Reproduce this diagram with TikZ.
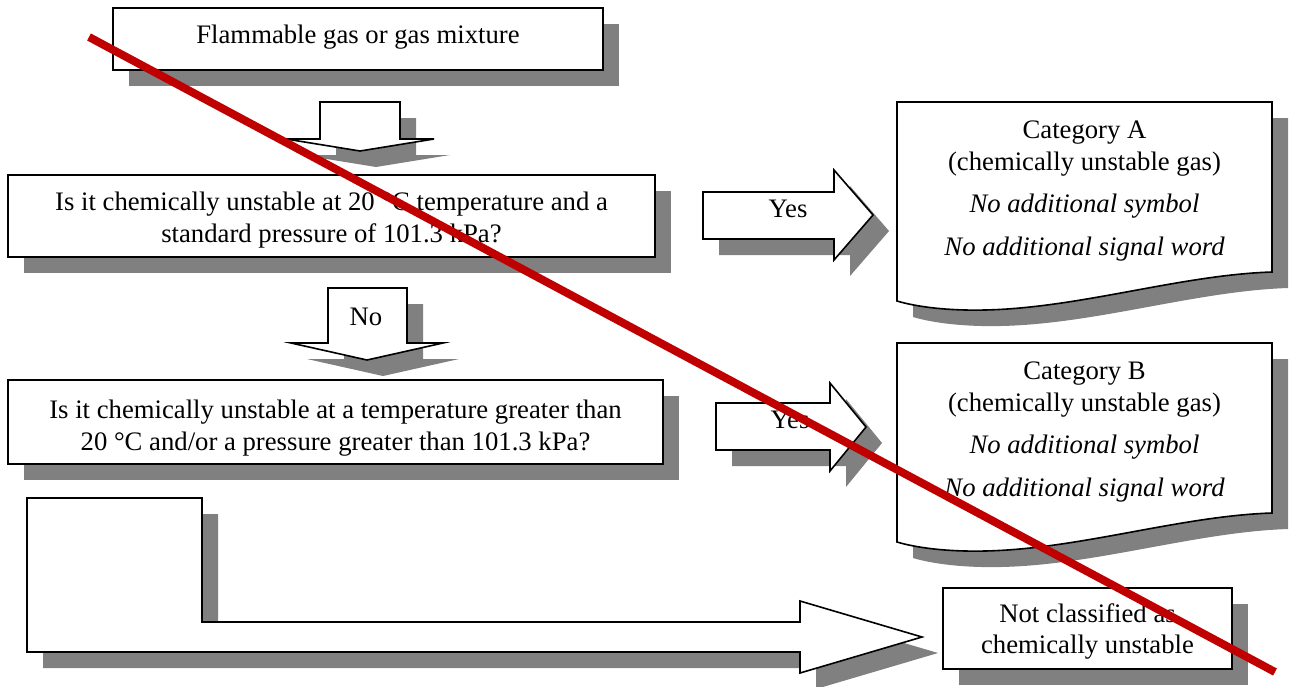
\documentclass[tikz,border=0pt]{standalone}
\usepackage{fontspec}
\setmainfont{Liberation Serif}
\usetikzlibrary{shadows}
\definecolor{shadowgray}{HTML}{808080}
\definecolor{crossred}{HTML}{C00000}
\tikzset{
  sh/.style={drop shadow={shadow xshift=16pt, shadow yshift=-16pt, fill=shadowgray, opacity=1}},
  outline/.style={draw=black, line width=1.6pt, fill=white, line join=miter, sh},
  box/.style={outline, rectangle, inner sep=0pt},
  txt/.style={font=\fontsize{26.7}{31}\selectfont, inner sep=0pt, anchor=base},
}
\begin{document}
\begin{tikzpicture}[x=1pt,y=-1pt]
\useasboundingbox (0,0) rectangle (1290,686);

% rectangular boxes
\node[box, minimum width=490pt, minimum height=62pt] (b1) at (358,39) {};
\node[box, minimum width=647pt, minimum height=82pt] (b2) at (331.5,216) {};
\node[box, minimum width=655pt, minimum height=84pt] (b3) at (335.5,422) {};

% block arrows
\path[outline] (320,102) -- (400,102) -- (400,139) -- (434,139) -- (360,151) -- (286,139) -- (320,139) -- cycle;
\path[outline] (328,288) -- (407,288) -- (407,343) -- (443,343) -- (367,360) -- (291,343) -- (328,343) -- cycle;
\path[outline] (703,192) -- (834,192) -- (834,170) -- (873,215) -- (834,260) -- (834,239) -- (703,239) -- cycle;
\path[outline] (716,403) -- (830,403) -- (830,383) -- (866,427) -- (830,471) -- (830,450) -- (716,450) -- cycle;
\path[outline] (27,498) -- (202,498) -- (202,622) -- (800,622) -- (800,601) -- (922,637) -- (800,673) -- (800,652) -- (27,652) -- cycle;

% document shapes
\path[outline] (897,102) -- (1272,102) -- (1272,272) .. controls (1180,275) and (1080,308) .. (985,310) .. controls (940,311) and (910,305) .. (897,301) -- cycle;
\path[outline] (897,343) -- (1272,343) -- (1272,513) .. controls (1180,516) and (1080,549) .. (985,551) .. controls (940,552) and (910,546) .. (897,542) -- cycle;

% result box
\node[box, minimum width=289pt, minimum height=81pt] (nc) at (1087.5,628.5) {};

% texts
\node[txt] (t1) at (358,43) {Flammable gas or gas mixture};
\node[txt] (t2a) at (331.5,210) {Is it chemically unstable at 20 °C temperature and a};
\node[txt] (t2b) at (331.5,242) {standard pressure of 101.3 kPa?};
\node[txt] (t3a) at (335.5,418) {Is it chemically unstable at a temperature greater than};
\node[txt] (t3b) at (335.5,450) {20 °C and/or a pressure greater than 101.3 kPa?};
\node[txt] (yes1) at (788,217) {Yes};
\node[txt] (yes2) at (790,428) {Yes};
\node[txt] (no) at (366,325) {No};
\node[txt] (a1) at (1084.5,138) {Category A};
\node[txt] (a2) at (1084.5,170) {(chemically unstable gas)};
\node[txt] (a3) at (1084.5,212) {\itshape No additional symbol};
\node[txt] (a4) at (1084.5,255) {\itshape No additional signal word};
\node[txt] (c1) at (1084.5,379) {Category B};
\node[txt] (c2) at (1084.5,411) {(chemically unstable gas)};
\node[txt] (c3) at (1084.5,453) {\itshape No additional symbol};
\node[txt] (c4) at (1084.5,496) {\itshape No additional signal word};
\node[txt] (n1) at (1087.5,622) {Not classified as};
\node[txt] (n2) at (1087.5,653) {chemically unstable};

% red cross line
\coordinate (rs) at (89,37);
\coordinate (re) at (1275,672);
\draw[crossred, line width=8pt] (rs) -- (re);
\end{tikzpicture}
\end{document}
